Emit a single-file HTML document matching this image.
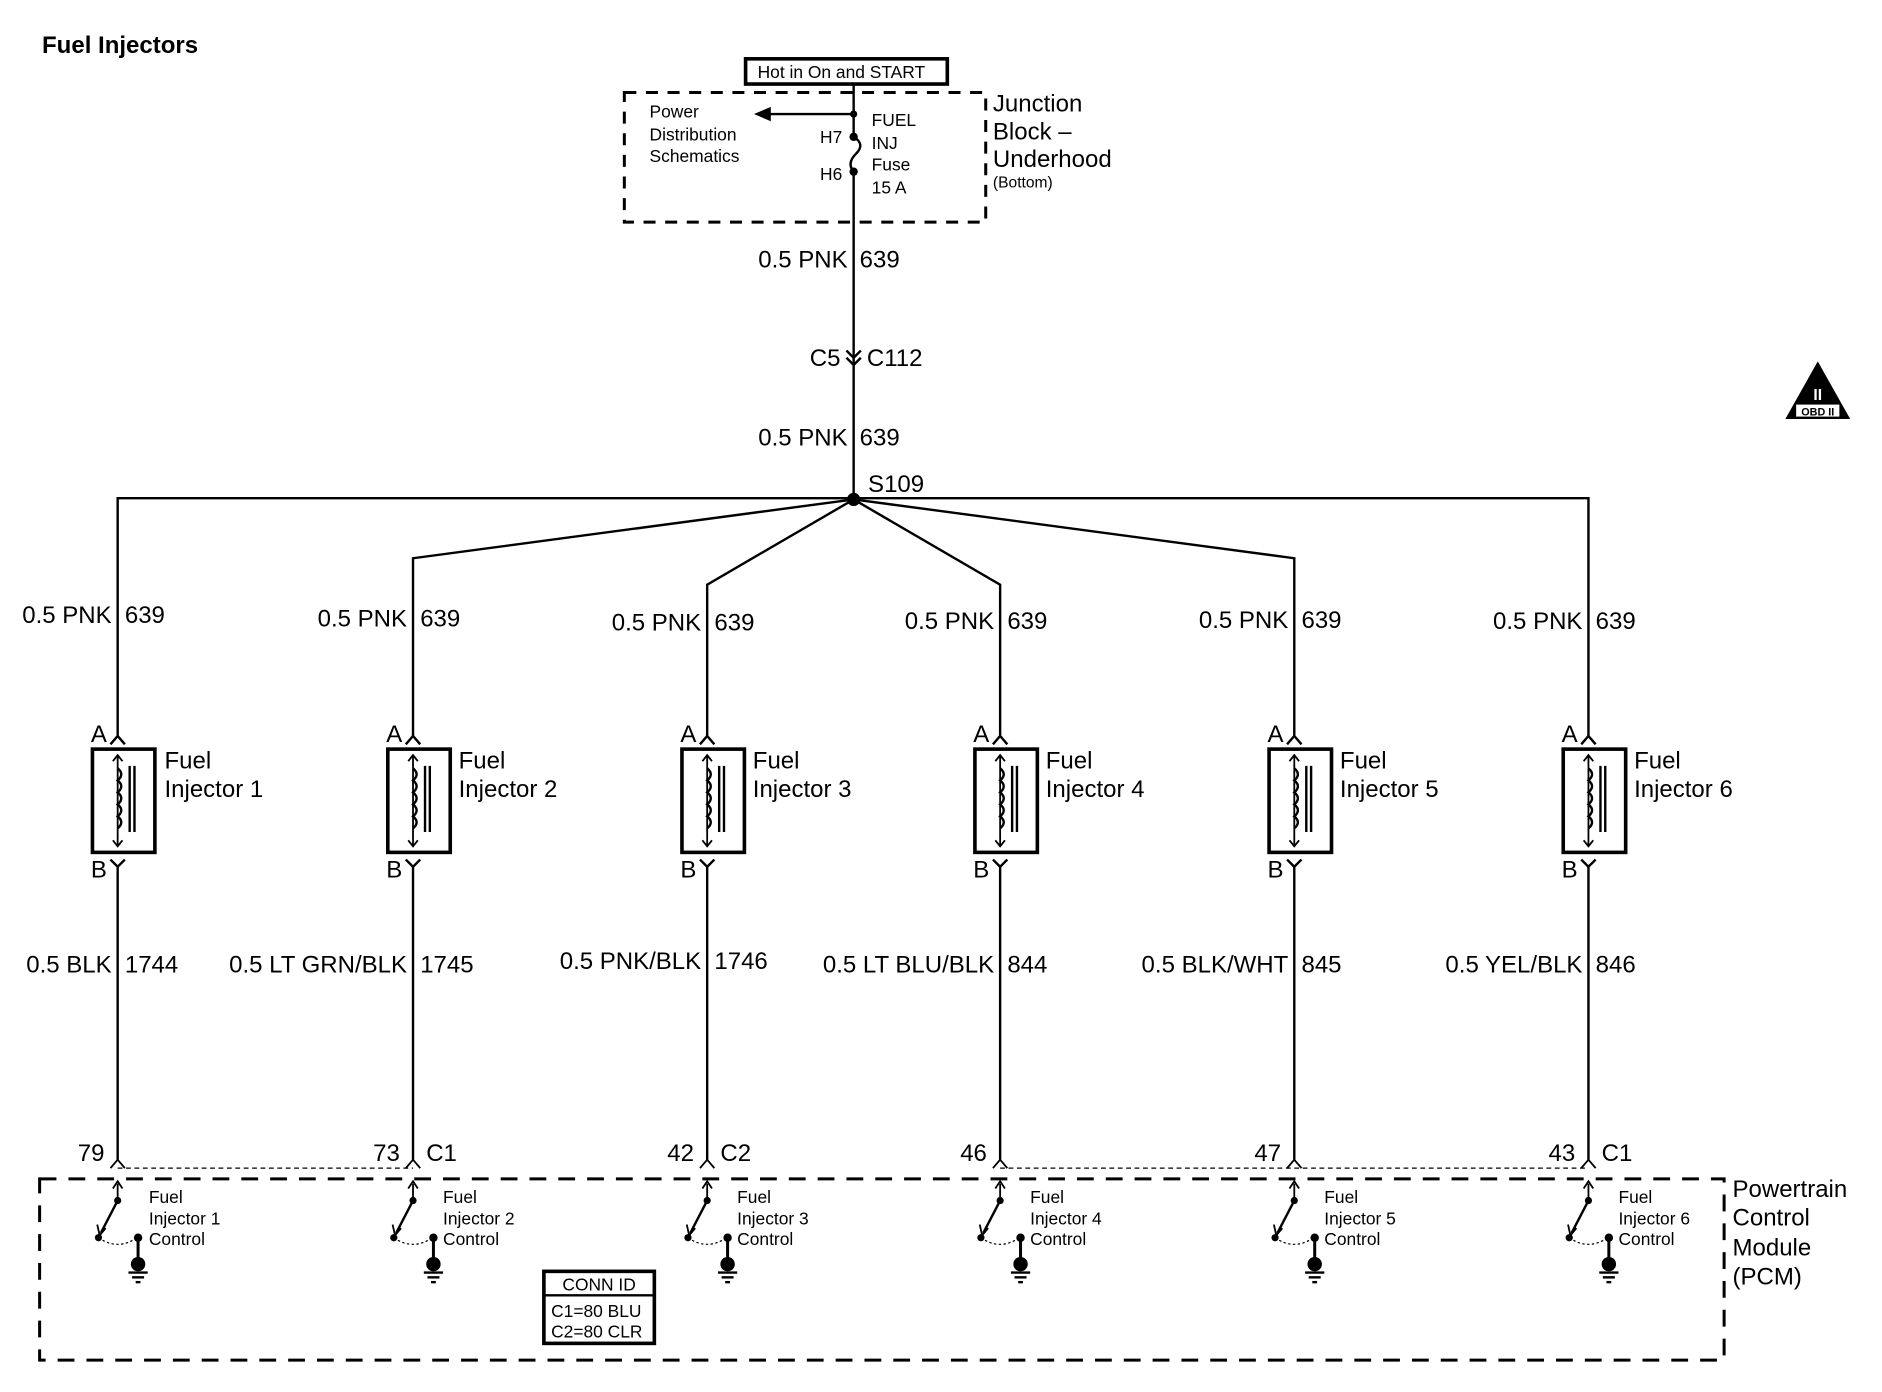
<!DOCTYPE html>
<html><head><meta charset="utf-8"><style>
html,body{margin:0;padding:0;background:#fff;}
svg{display:block;}
text{font-family:"Liberation Sans",Arial,sans-serif;fill:#000;}
.b{font-size:20px;}
.s{font-size:14.5px;}
.e{text-anchor:end;}
</style></head><body>
<svg width="1882" height="1392" viewBox="0 0 1567.5 1159.5" preserveAspectRatio="none" xmlns="http://www.w3.org/2000/svg">
<defs>
<g id="inj" fill="none" stroke="#000">
  <path d="M-6,620 L0,613 L6,620" stroke-width="2"/>
  <rect x="-21" y="624" width="52" height="86" stroke-width="3"/>
  <line x1="0" y1="630" x2="0" y2="704" stroke-width="1.5"/>
  <path d="M-4,634 L0,629 L4,634 M-4,700 L0,705 L4,700" stroke-width="1.5"/>
  <path d="M0,640 q6,5 0,10 q6,5 0,10 q6,5 0,10 q6,5 0,10 q6,5 0,10" stroke-width="2"/>
  <line x1="10" y1="638" x2="10" y2="693" stroke-width="2"/>
  <line x1="14" y1="638" x2="14" y2="693" stroke-width="2"/>
  <path d="M-6,716 L0,722 L6,716" stroke-width="2"/>
  <line x1="0" y1="722" x2="0" y2="966" stroke-width="2"/>
  <path d="M-6,973 L0,966 L6,973" stroke-width="1.5"/>
  <line x1="0" y1="986" x2="0" y2="1000" stroke-width="1.5"/>
  <path d="M-4,990 L0,984 L4,990" stroke-width="1.5"/>
  <line x1="0" y1="1000" x2="-14" y2="1027" stroke-width="2"/>
  <path d="M-17,1020 L-15,1029 L-10,1023" stroke-width="1.5"/>
  <path d="M-16,1031 Q0,1042 16,1031" stroke-width="1" stroke-dasharray="2,2"/>
  <line x1="17" y1="1031" x2="17" y2="1050" stroke-width="2.5"/>
  <line x1="9" y1="1060" x2="25" y2="1060" stroke-width="2"/>
  <line x1="12" y1="1064" x2="22" y2="1064" stroke-width="2"/>
  <line x1="15" y1="1068" x2="19" y2="1068" stroke-width="2"/>
  <circle cx="0" cy="1000" r="3" fill="#000" stroke="none"/>
  <circle cx="-16" cy="1031" r="3" fill="#000" stroke="none"/>
  <circle cx="17" cy="1031" r="3.5" fill="#000" stroke="none"/>
  <circle cx="17" cy="1053" r="6" fill="#000" stroke="none"/>
</g>
</defs>

<text x="35" y="44" style="font-size:20px;font-weight:bold">Fuel Injectors</text>

<rect x="621" y="49" width="168" height="21" fill="none" stroke="#000" stroke-width="3"/>
<text x="631" y="65" class="s">Hot in On and START</text>
<rect x="520" y="77" width="301" height="108" fill="none" stroke="#000" stroke-width="2.5" stroke-dasharray="10,8"/>
<line x1="711" y1="70" x2="711" y2="113" stroke="#000" stroke-width="2"/>
<line x1="711" y1="143" x2="711" y2="415" stroke="#000" stroke-width="2"/>
<line x1="711" y1="95" x2="640" y2="95" stroke="#000" stroke-width="2"/>
<path d="M628,95 L642,89 L642,101 Z" fill="#000"/>
<circle cx="711" cy="95" r="3" fill="#000"/>
<circle cx="711" cy="114" r="3.5" fill="#000"/>
<circle cx="711" cy="143" r="3.5" fill="#000"/>
<path d="M711,114 q10,6 2,14 q-8,8 -2,15" fill="none" stroke="#000" stroke-width="2"/>
<text x="683" y="119" class="s">H7</text>
<text x="683" y="150" class="s">H6</text>
<text x="726" y="105" class="s">FUEL</text>
<text x="726" y="124" class="s">INJ</text>
<text x="726" y="142" class="s">Fuse</text>
<text x="726" y="161" class="s">15 A</text>
<text x="541" y="98" class="s">Power</text>
<text x="541" y="117" class="s">Distribution</text>
<text x="541" y="135" class="s">Schematics</text>
<text x="827" y="93" class="b">Junction</text>
<text x="827" y="116" class="b">Block –</text>
<text x="827" y="139" class="b">Underhood</text>
<text x="827" y="156" style="font-size:13px">(Bottom)</text>

<text x="706" y="223" class="b e">0.5 PNK</text>
<text x="716" y="223" class="b">639</text>
<path d="M705,292 L711,298 L717,292 M705,298 L711,304 L717,298" fill="none" stroke="#000" stroke-width="2"/>
<text x="700" y="305" class="b e">C5</text>
<text x="722" y="305" class="b">C112</text>
<text x="706" y="371" class="b e">0.5 PNK</text>
<text x="716" y="371" class="b">639</text>
<circle cx="711" cy="416" r="5.5" fill="#000"/>
<text x="723" y="410" class="b">S109</text>

<g fill="none" stroke="#000" stroke-width="2">
<polyline points="98,613 98,415 1323,415 1323,613"/>
<polyline points="711,416 344,465 344,613"/>
<polyline points="711,416 589,487 589,613"/>
<polyline points="711,416 833,487 833,613"/>
<polyline points="711,416 1078,465 1078,613"/>
<line x1="98" y1="973" x2="344" y2="973" stroke-width="1" stroke-dasharray="4,3"/>
<line x1="833" y1="973" x2="1323" y2="973" stroke-width="1" stroke-dasharray="4,3"/>
<rect x="33" y="982" width="1403" height="151" stroke-width="2.5" stroke-dasharray="14,10"/>
<rect x="453" y="1059" width="92" height="60" stroke-width="3"/>
<line x1="453" y1="1079" x2="545" y2="1079" stroke-width="2"/>
</g>

<use href="#inj" x="98"/>
<use href="#inj" x="344"/>
<use href="#inj" x="589"/>
<use href="#inj" x="833"/>
<use href="#inj" x="1078"/>
<use href="#inj" x="1323"/>

<text x="93" y="519" class="b e">0.5 PNK</text><text x="104" y="519" class="b">639</text>
<text x="89" y="618" class="b e">A</text><text x="89" y="731" class="b e">B</text>
<text x="137" y="640" class="b">Fuel</text><text x="137" y="664" class="b">Injector 1</text>
<text x="93" y="810" class="b e">0.5 BLK</text><text x="104" y="810" class="b">1744</text>
<text x="87" y="967" class="b e">79</text>
<text x="124" y="1002" class="s">Fuel</text><text x="124" y="1020" class="s">Injector 1</text><text x="124" y="1037" class="s">Control</text>

<text x="339" y="522" class="b e">0.5 PNK</text><text x="350" y="522" class="b">639</text>
<text x="335" y="618" class="b e">A</text><text x="335" y="731" class="b e">B</text>
<text x="382" y="640" class="b">Fuel</text><text x="382" y="664" class="b">Injector 2</text>
<text x="339" y="810" class="b e">0.5 LT GRN/BLK</text><text x="350" y="810" class="b">1745</text>
<text x="333" y="967" class="b e">73</text><text x="355" y="967" class="b">C1</text>
<text x="369" y="1002" class="s">Fuel</text><text x="369" y="1020" class="s">Injector 2</text><text x="369" y="1037" class="s">Control</text>

<text x="584" y="525" class="b e">0.5 PNK</text><text x="595" y="525" class="b">639</text>
<text x="580" y="618" class="b e">A</text><text x="580" y="731" class="b e">B</text>
<text x="627" y="640" class="b">Fuel</text><text x="627" y="664" class="b">Injector 3</text>
<text x="584" y="807" class="b e">0.5 PNK/BLK</text><text x="595" y="807" class="b">1746</text>
<text x="578" y="967" class="b e">42</text><text x="600" y="967" class="b">C2</text>
<text x="614" y="1002" class="s">Fuel</text><text x="614" y="1020" class="s">Injector 3</text><text x="614" y="1037" class="s">Control</text>

<text x="828" y="524" class="b e">0.5 PNK</text><text x="839" y="524" class="b">639</text>
<text x="824" y="618" class="b e">A</text><text x="824" y="731" class="b e">B</text>
<text x="871" y="640" class="b">Fuel</text><text x="871" y="664" class="b">Injector 4</text>
<text x="828" y="810" class="b e">0.5 LT BLU/BLK</text><text x="839" y="810" class="b">844</text>
<text x="822" y="967" class="b e">46</text>
<text x="858" y="1002" class="s">Fuel</text><text x="858" y="1020" class="s">Injector 4</text><text x="858" y="1037" class="s">Control</text>

<text x="1073" y="523" class="b e">0.5 PNK</text><text x="1084" y="523" class="b">639</text>
<text x="1069" y="618" class="b e">A</text><text x="1069" y="731" class="b e">B</text>
<text x="1116" y="640" class="b">Fuel</text><text x="1116" y="664" class="b">Injector 5</text>
<text x="1073" y="810" class="b e">0.5 BLK/WHT</text><text x="1084" y="810" class="b">845</text>
<text x="1067" y="967" class="b e">47</text>
<text x="1103" y="1002" class="s">Fuel</text><text x="1103" y="1020" class="s">Injector 5</text><text x="1103" y="1037" class="s">Control</text>

<text x="1318" y="524" class="b e">0.5 PNK</text><text x="1329" y="524" class="b">639</text>
<text x="1314" y="618" class="b e">A</text><text x="1314" y="731" class="b e">B</text>
<text x="1361" y="640" class="b">Fuel</text><text x="1361" y="664" class="b">Injector 6</text>
<text x="1318" y="810" class="b e">0.5 YEL/BLK</text><text x="1329" y="810" class="b">846</text>
<text x="1312" y="967" class="b e">43</text><text x="1334" y="967" class="b">C1</text>
<text x="1348" y="1002" class="s">Fuel</text><text x="1348" y="1020" class="s">Injector 6</text><text x="1348" y="1037" class="s">Control</text>

<text x="499" y="1075" class="s" text-anchor="middle">CONN ID</text>
<text x="459" y="1097" class="s">C1=80 BLU</text>
<text x="459" y="1114" class="s">C2=80 CLR</text>

<text x="1443" y="997" class="b">Powertrain</text>
<text x="1443" y="1021" class="b">Control</text>
<text x="1443" y="1046" class="b">Module</text>
<text x="1443" y="1070" class="b">(PCM)</text>

<path d="M1514,301 L1541,349 L1487,349 Z" fill="#000"/>
<text x="1514" y="333" text-anchor="middle" style="font-size:13px;font-weight:bold;fill:#fff">II</text>
<rect x="1496" y="337" width="36" height="10" fill="#fff"/>
<text x="1514" y="346" text-anchor="middle" style="font-size:9px;font-weight:bold">OBD II</text>
</svg>
</body></html>
